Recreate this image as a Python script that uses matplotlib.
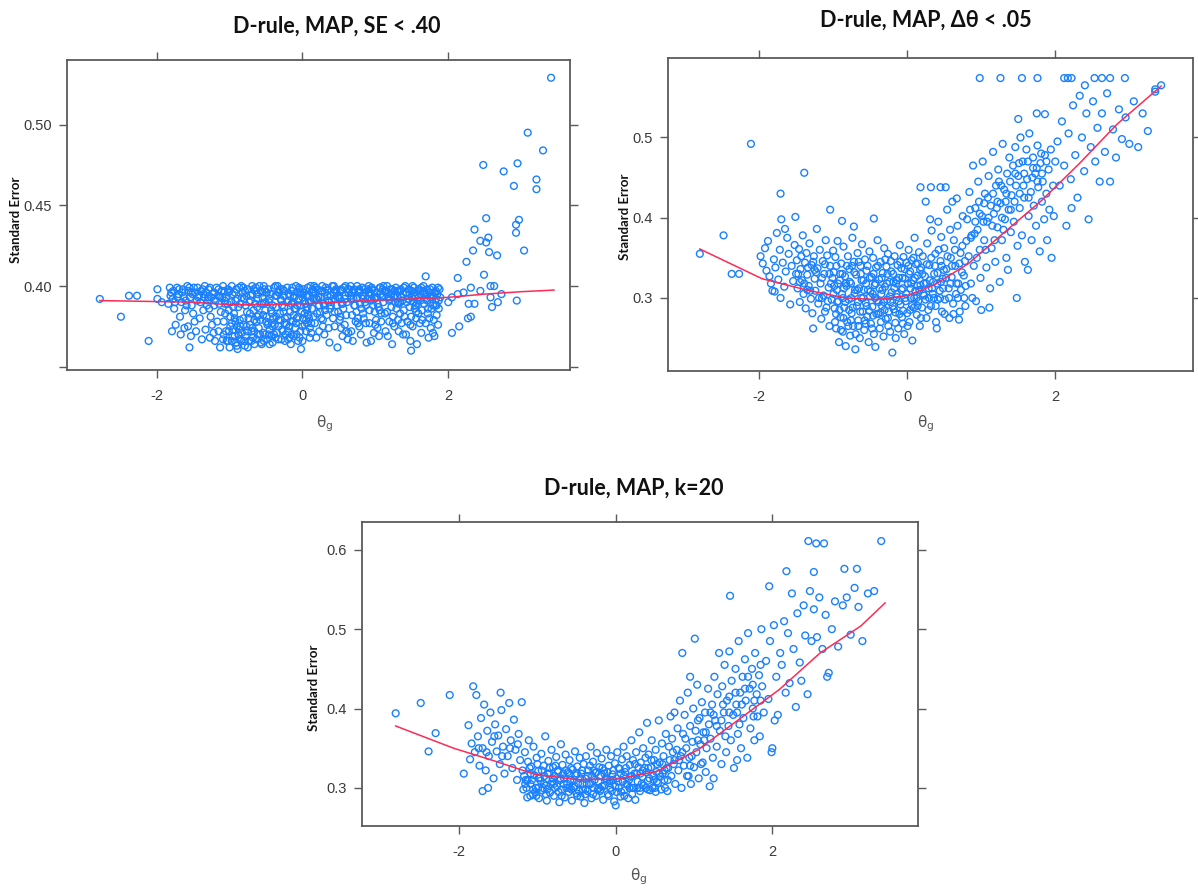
import numpy as np
import matplotlib
matplotlib.use('Agg')
import matplotlib.pyplot as plt

# ---- panel 1 : D-rule, MAP, SE < .40 ----
se40_core = [
    (-1.82,.399),(-1.80,.396),(-1.78,.392),(-1.84,.389),(-1.76,.386),(-1.72,.399),(-1.70,.395),(-1.68,.381),
    (-1.74,.376),(-1.66,.390),(-1.64,.398),(-1.62,.374),(-1.79,.372),(-1.61,.385),(-1.67,.370),
    (-1.58,.400),(-1.56,.397),(-1.54,.393),(-1.52,.388),(-1.50,.383),(-1.48,.378),(-1.46,.372),(-1.44,.399),
    (-1.42,.394),(-1.40,.390),(-1.38,.367),(-1.36,.385),(-1.57,.375),(-1.53,.369),(-1.47,.396),(-1.41,.380),
    (-1.37,.398),(-1.55,.362),
    (-1.34,.400),(-1.32,.396),(-1.30,.391),(-1.28,.386),(-1.26,.381),(-1.24,.376),(-1.22,.371),(-1.20,.366),
    (-1.18,.399),(-1.16,.394),(-1.14,.389),(-1.12,.384),(-1.33,.373),(-1.29,.398),(-1.25,.393),(-1.21,.388),
    (-1.17,.378),(-1.13,.362),(-1.11,.397),(-1.27,.368),
    (-1.09,.400),(-1.07,.397),(-1.05,.393),(-1.03,.389),(-1.01,.385),(-0.99,.381),(-0.97,.377),(-0.95,.373),
    (-0.93,.369),(-0.91,.365),(-0.89,.361),(-0.87,.399),(-1.08,.370),(-1.04,.366),(-1.00,.362),(-0.96,.395),
    (-0.92,.391),(-0.88,.387),(-0.86,.379),(-1.06,.383),(-1.02,.398),(-0.98,.390),(-0.94,.383),(-0.90,.375),
    (-0.86,.367),
    (-0.84,.400),(-0.82,.396),(-0.80,.392),(-0.78,.388),(-0.76,.384),(-0.74,.380),(-0.72,.376),(-0.70,.372),
    (-0.68,.368),(-0.66,.364),(-0.64,.399),(-0.62,.395),(-0.83,.371),(-0.79,.363),(-0.75,.398),(-0.71,.391),
    (-0.67,.385),(-0.63,.378),(-0.61,.370),(-0.81,.380),(-0.77,.375),(-0.73,.366),(-0.69,.395),(-0.65,.389),
    (-0.60,.382),
    (-0.59,.400),(-0.57,.397),(-0.55,.393),(-0.53,.389),(-0.51,.385),(-0.49,.381),(-0.47,.377),(-0.45,.373),
    (-0.43,.369),(-0.41,.365),(-0.39,.399),(-0.37,.394),(-0.58,.379),(-0.54,.371),(-0.50,.396),(-0.46,.390),
    (-0.42,.383),(-0.38,.376),(-0.36,.387),(-0.56,.364),(-0.52,.398),(-0.48,.367),(-0.44,.395),(-0.40,.380),
    (-0.35,.371),
    (-0.34,.400),(-0.32,.396),(-0.30,.392),(-0.28,.388),(-0.26,.384),(-0.24,.380),(-0.22,.376),(-0.20,.372),
    (-0.18,.368),(-0.16,.364),(-0.14,.399),(-0.12,.394),(-0.33,.375),(-0.29,.367),(-0.25,.397),(-0.21,.390),
    (-0.17,.384),(-0.13,.378),(-0.11,.386),(-0.31,.383),(-0.27,.398),(-0.23,.370),(-0.19,.395),(-0.15,.389),
    (-0.10,.374),
    (-0.09,.400),(-0.07,.396),(-0.05,.392),(-0.03,.388),(-0.01,.384),(0.01,.380),(0.03,.376),(0.05,.372),
    (-0.02,.361),(0.07,.399),(0.09,.394),(0.11,.390),(0.13,.386),(-0.08,.370),(-0.04,.398),(0.00,.393),
    (0.04,.389),(0.08,.382),(0.12,.377),(0.14,.398),(-0.06,.366),(0.02,.396),(0.06,.385),(0.10,.368),
    (0.15,.392),
    (0.16,.400),(0.18,.396),(0.20,.392),(0.22,.388),(0.24,.384),(0.26,.380),(0.28,.375),(0.30,.370),
    (0.32,.399),(0.34,.394),(0.36,.390),(0.38,.386),(0.17,.377),(0.21,.398),(0.25,.393),(0.29,.389),
    (0.33,.382),(0.37,.365),(0.19,.368),(0.23,.372),(0.27,.397),(0.31,.385),(0.35,.398),(0.39,.394),
    (0.41,.400),(0.43,.396),(0.45,.392),(0.47,.388),(0.49,.384),(0.51,.379),(0.53,.374),(0.55,.369),
    (0.57,.399),(0.59,.394),(0.61,.390),(0.63,.371),(0.42,.380),(0.46,.398),(0.50,.393),(0.54,.389),
    (0.58,.376),(0.62,.367),(0.44,.375),(0.48,.362),(0.52,.397),(0.56,.386),(0.60,.382),(0.64,.398),
    (0.66,.400),(0.68,.396),(0.70,.392),(0.72,.388),(0.74,.384),(0.76,.380),(0.78,.375),(0.80,.370),
    (0.82,.399),(0.84,.394),(0.86,.390),(0.88,.365),(0.67,.372),(0.71,.398),(0.75,.393),(0.79,.389),
    (0.83,.383),(0.87,.377),(0.69,.366),(0.73,.378),(0.77,.397),(0.81,.386),(0.85,.398),(0.89,.392),
    (0.91,.400),(0.93,.396),(0.95,.392),(0.97,.388),(0.99,.384),(1.01,.379),(1.03,.374),(1.05,.369),
    (1.07,.399),(1.09,.394),(1.11,.390),(1.13,.383),(0.92,.377),(0.96,.398),(1.00,.393),(1.04,.387),
    (1.08,.378),(1.12,.397),(0.94,.366),(0.98,.371),(1.02,.396),(1.06,.385),(1.10,.398),(1.14,.372),
    (1.16,.400),(1.18,.396),(1.20,.392),(1.22,.387),(1.24,.381),(1.26,.375),(1.28,.399),(1.30,.394),
    (1.32,.389),(1.34,.383),(1.36,.377),(1.38,.370),(1.17,.369),(1.21,.398),(1.25,.393),(1.29,.386),
    (1.33,.397),(1.37,.391),(1.19,.378),(1.23,.364),(1.27,.390),(1.31,.379),(1.35,.398),(1.39,.385),
    (1.41,.400),(1.43,.396),(1.45,.392),(1.47,.387),(1.49,.381),(1.51,.375),(1.53,.399),(1.55,.394),
    (1.57,.389),(1.59,.383),(1.61,.377),(1.63,.371),(1.42,.370),(1.46,.398),(1.50,.393),(1.54,.386),
    (1.58,.397),(1.62,.391),(1.44,.378),(1.48,.366),(1.52,.390),(1.56,.380),(1.60,.398),(1.64,.385),
    (1.66,.400),(1.68,.396),(1.70,.392),(1.72,.386),(1.74,.380),(1.76,.374),(1.78,.399),(1.80,.394),
    (1.82,.388),(1.84,.382),(1.86,.376),(1.88,.398),(1.67,.389),(1.71,.398),(1.75,.393),(1.79,.371),
    (1.83,.397),(1.87,.391),(1.69,.377),(1.73,.368),(1.77,.386),(1.85,.395),(1.89,.393),
]
se40_core2 = [
    (-1.81,.394),(-1.75,.390),(-1.69,.398),(-1.63,.393),(-1.59,.388),(-1.55,.399),(-1.51,.395),(-1.45,.391),
    (-1.39,.397),(-1.35,.393),(-1.31,.388),(-1.27,.399),(-1.23,.395),(-1.19,.391),(-1.15,.398),(-1.10,.393),
    (-1.06,.389),(-1.02,.396),(-0.97,.400),(-0.93,.396),(-0.89,.392),(-0.85,.389),(-0.81,.399),(-0.77,.394),
    (-0.73,.390),(-0.69,.400),(-0.65,.397),(-0.61,.392),(-0.57,.389),(-0.53,.400),(-0.49,.396),(-0.45,.392),
    (-0.41,.388),(-0.37,.400),(-0.33,.396),(-0.29,.391),(-0.25,.387),(-0.21,.399),(-0.17,.394),(-0.13,.390),
    (-0.09,.386),(-0.05,.399),(-0.01,.395),(0.03,.391),(0.07,.387),(0.11,.400),(0.15,.396),(0.19,.392),
    (0.23,.388),(0.27,.400),(0.31,.396),(0.35,.391),(0.39,.388),(0.43,.400),(0.47,.396),(0.51,.392),
    (0.55,.389),(0.59,.400),(0.63,.396),(0.67,.392),(0.71,.388),(0.75,.400),(0.79,.396),(0.83,.392),
    (0.87,.388),(0.91,.396),(0.95,.399),(0.99,.392),(1.03,.389),(1.07,.395),(1.11,.400),(1.15,.396),
    (1.19,.391),(1.23,.398),(1.27,.394),(1.31,.390),(1.35,.393),(1.39,.399),(1.43,.390),(1.47,.395),
    (1.51,.400),(1.55,.388),(1.59,.393),(1.63,.399),(1.67,.395),(1.71,.391),(1.75,.398),(1.79,.388),
    (1.83,.392),(1.87,.386),
    (-1.08,.378),(-1.05,.372),(-1.02,.366),(-0.99,.375),(-0.96,.369),(-0.93,.380),(-0.90,.363),(-0.87,.373),
    (-0.84,.366),(-0.81,.376),(-0.78,.369),(-0.75,.362),(-0.72,.383),(-0.69,.374),(-0.66,.379),(-0.63,.367),
    (-0.60,.374),(-0.57,.365),(-0.54,.382),(-0.51,.370),(-0.48,.376),(-0.45,.364),(-0.42,.377),(-0.39,.370),
    (-0.36,.381),(-0.33,.367),(-0.30,.379),(-0.27,.372),(-0.24,.366),(-0.21,.381),(-0.18,.375),(-0.15,.370),
    (-0.12,.382),(-0.09,.377),(-0.06,.381),(-0.03,.372),(0.00,.366),(0.03,.383),(0.06,.377),(0.09,.380),
    (0.12,.371),
    (0.20,.383),(0.28,.379),(0.36,.374),(0.44,.384),(0.52,.381),(0.60,.372),(0.68,.382),(0.76,.377),
    (0.84,.380),(0.92,.385),(1.00,.376),(1.08,.383),(1.16,.384),(1.24,.377),(1.32,.372),(1.40,.381),
    (1.48,.376),(1.56,.384),(1.64,.379),(1.72,.383),(1.80,.379),
]
se40_core3 = [
    (-1.77,.397),(-1.71,.393),(-1.65,.396),(-1.60,.391),(-1.53,.396),(-1.49,.399),(-1.43,.393),(-1.36,.395),
    (-1.29,.393),(-1.21,.396),(-1.13,.393),(-1.07,.391),(-1.00,.397),(-0.95,.387),(-0.91,.398),(-0.83,.393),
    (-0.79,.397),(-0.71,.394),(-0.67,.398),(-0.62,.387),(-0.55,.396),(-0.51,.390),(-0.47,.398),(-0.43,.385),
    (-0.35,.394),(-0.31,.398),(-0.26,.394),(-0.19,.391),(-0.15,.397),(-0.11,.393),(-0.07,.388),(-0.03,.396),
    (0.01,.398),(0.05,.394),(0.09,.390),(0.13,.396),(0.18,.399),(0.22,.393),(0.26,.397),(0.30,.388),
    (0.34,.397),(0.40,.391),(0.45,.397),(0.49,.394),(0.53,.398),(0.58,.392),(0.62,.398),(0.66,.394),
    (0.70,.397),(0.74,.392),(0.78,.398),(0.82,.394),(0.86,.396),(0.90,.398),(0.94,.391),(0.98,.397),
    (1.02,.393),(1.06,.399),(1.10,.393),(1.14,.397),(1.18,.393),(1.22,.395),(1.26,.397),(1.30,.397),
    (1.34,.390),(1.38,.395),(1.42,.396),(1.46,.392),(1.50,.397),(1.54,.396),(1.58,.391),(1.62,.395),
    (1.66,.397),(1.70,.395),(1.74,.396),(1.78,.393),(1.82,.396),(1.86,.399),
    (-1.15,.372),(-1.09,.367),(-1.01,.372),(-0.97,.366),(-0.92,.378),(-0.88,.370),(-0.85,.375),(-0.80,.366),
    (-0.76,.372),(-0.70,.366),(-0.66,.372),(-0.62,.381),(-0.58,.370),(-0.53,.366),(-0.50,.378),(-0.46,.370),
    (-0.41,.375),(-0.37,.368),(-0.33,.379),(-0.28,.373),(-0.24,.377),(-0.20,.367),(-0.16,.378),(-0.12,.369),
    (-0.08,.380),(-0.04,.368),(0.00,.375),(0.05,.379),(0.10,.374),(0.15,.381),
]
se40_tail = [
    (-2.78,.392),(-2.49,.381),(-2.38,.394),(-2.27,.394),(-2.11,.366),(-1.99,.398),(-1.99,.392),(-1.93,.390),
    (3.41,.529),(3.09,.495),(3.30,.484),(2.48,.475),(2.95,.476),(2.76,.471),(2.90,.462),(3.21,.466),
    (3.21,.460),(2.52,.442),(2.97,.441),(2.93,.438),(2.93,.433),(2.36,.435),(2.44,.428),(2.55,.430),
    (2.52,.427),(2.56,.421),(2.67,.419),(2.34,.422),(2.25,.415),(3.04,.422),(2.49,.407),(1.69,.406),
    (2.13,.405),(2.94,.391),(2.58,.400),(2.63,.400),(2.58,.393),(2.68,.390),(2.60,.387),(2.28,.389),
    (2.36,.389),(2.31,.381),(2.27,.380),(2.15,.375),(2.05,.371),(1.49,.360),(1.57,.364),(2.73,.395),
    (2.44,.397),(2.31,.399),(2.21,.396),(2.13,.395),(2.05,.393),(2.00,.390),(1.84,.388),(1.81,.369),
]
se40_fit_x = [-2.78, -1.5, -1.0, -0.5, 0.0, 0.5, 1.0, 1.5, 2.0, 2.5, 3.0, 3.45]
se40_fit_y = [0.391, 0.390, 0.3884, 0.3884, 0.389, 0.390, 0.3913, 0.392, 0.393, 0.395, 0.3965, 0.3975]

# ---- panel 2 : D-rule, MAP, dtheta < .05 ----
dt05_core = [
    (-1.98,.352),(-1.95,.343),(-1.92,.362),(-1.90,.334),(-1.88,.371),(-1.86,.327),(-1.84,.318),(-1.82,.309),
    (-1.80,.348),(-1.78,.338),(-1.76,.381),(-1.74,.323),(-1.72,.360),(-1.70,.398),(-1.68,.344),(-1.66,.314),
    (-1.64,.333),(-1.62,.375),(-1.60,.355),(-1.58,.292),(-1.56,.340),(-1.54,.321),(-1.52,.366),(-1.51,.401),
    (-1.50,.330),(-1.65,.386),(-1.79,.308),(-1.71,.300),
    (-1.49,.347),(-1.48,.312),(-1.46,.361),(-1.45,.295),(-1.44,.336),(-1.42,.322),(-1.41,.378),(-1.40,.305),
    (-1.38,.344),(-1.37,.287),(-1.36,.356),(-1.35,.329),(-1.33,.315),(-1.32,.368),(-1.30,.299),(-1.29,.341),
    (-1.28,.281),(-1.26,.352),(-1.25,.324),(-1.24,.309),(-1.22,.386),(-1.21,.337),(-1.20,.293),(-1.18,.360),
    (-1.17,.318),(-1.16,.274),(-1.14,.346),(-1.13,.303),(-1.12,.330),(-1.10,.372),(-1.09,.288),(-1.08,.353),
    (-1.06,.313),(-1.05,.265),(-1.04,.340),(-1.02,.298),(-1.01,.325),(-1.00,.359),(-1.27,.262),(-1.11,.283),
    (-0.99,.332),(-0.98,.287),(-0.97,.351),(-0.96,.262),(-0.95,.310),(-0.94,.371),(-0.93,.296),(-0.92,.245),
    (-0.91,.322),(-0.90,.276),(-0.89,.343),(-0.88,.305),(-0.87,.258),(-0.86,.364),(-0.85,.288),(-0.84,.327),
    (-0.83,.240),(-0.82,.315),(-0.81,.270),(-0.80,.352),(-0.79,.298),(-0.78,.336),(-0.77,.253),(-0.76,.318),
    (-0.75,.281),(-0.74,.375),(-0.73,.265),(-0.72,.345),(-0.71,.306),(-0.70,.236),(-0.69,.329),(-0.68,.290),
    (-0.67,.356),(-0.66,.272),(-0.65,.312),(-0.64,.250),(-0.63,.340),(-0.62,.300),(-0.61,.367),(-0.60,.283),
    (-0.59,.322),(-0.58,.260),(-0.57,.348),(-0.56,.294),(-0.55,.334),(-0.54,.277),(-0.53,.310),(-0.52,.245),
    (-0.51,.358),(-0.50,.302),(-0.49,.268),(-0.48,.326),(-0.47,.289),(-0.46,.350),(-0.45,.255),(-0.44,.316),
    (-0.43,.239),(-0.42,.338),(-0.41,.297),(-0.40,.372),(-0.39,.280),(-0.38,.323),(-0.37,.262),(-0.36,.345),
    (-0.35,.305),(-0.34,.290),(-0.33,.331),(-0.32,.252),(-0.31,.362),(-0.30,.314),(-0.29,.274),(-0.28,.339),
    (-0.27,.298),(-0.26,.355),(-0.25,.283),(-0.24,.320),(-0.23,.258),(-0.22,.346),(-0.21,.307),(-0.20,.232),
    (-0.19,.330),(-0.18,.286),(-0.17,.352),(-0.16,.269),(-0.15,.318),(-0.14,.301),(-0.13,.341),(-0.12,.262),
    (-0.11,.325),(-0.10,.366),(-0.09,.292),(-0.08,.337),(-0.07,.276),(-0.06,.312),(-0.05,.351),(-0.04,.255),
    (-0.03,.324),(-0.02,.296),(-0.01,.344),(0.00,.281),(0.01,.318),(0.02,.360),(0.03,.270),(0.04,.333),
    (0.05,.300),(0.06,.347),(0.07,.247),(0.08,.322),(0.09,.288),(0.10,.375),(0.11,.309),(0.12,.342),
    (0.13,.279),(0.14,.328),(0.15,.296),(0.16,.357),(0.17,.265),(0.18,.316),(0.19,.338),(0.20,.288),
    (0.21,.352),(0.23,.303),(0.24,.327),(0.26,.275),(0.27,.368),(0.29,.312),(0.30,.341),(0.32,.290),
    (0.33,.384),(0.35,.320),(0.36,.300),(0.38,.355),(0.39,.270),(0.41,.331),(0.42,.395),(0.44,.309),
    (0.45,.346),(0.47,.283),(0.48,.324),(0.50,.362),(0.51,.298),(0.53,.336),(0.54,.410),(0.56,.312),
    (0.57,.275),(0.59,.350),(0.60,.326),(0.62,.293),(0.63,.372),(0.65,.340),(0.66,.305),(0.68,.390),
    (0.69,.318),(0.71,.283),(0.72,.356),(0.74,.332),(0.75,.402),(0.77,.300),(0.78,.346),(0.80,.371),
    (0.25,.420),(0.40,.262),(0.52,.438),(0.61,.420),(0.70,.273),(0.79,.315),(0.31,.398),(0.46,.376),
    (0.58,.385),(0.67,.424),
    (0.81,.398),(0.83,.352),(0.84,.432),(0.86,.318),(0.87,.378),(0.89,.465),(0.90,.340),(0.92,.412),
    (0.93,.296),(0.95,.385),(0.96,.445),(0.98,.360),(0.99,.325),(1.01,.402),(1.02,.470),(1.04,.372),
    (1.05,.430),(1.07,.338),(1.08,.395),(1.10,.452),(1.11,.288),(1.13,.415),(1.14,.362),(1.16,.482),
    (1.17,.405),(1.19,.345),(1.20,.440),(1.22,.388),(1.23,.460),(1.25,.320),(1.26,.418),(1.28,.372),
    (1.29,.492),(1.31,.435),(1.32,.398),(1.34,.350),(1.35,.455),(1.37,.410),(1.38,.475),(1.40,.382),
    (0.88,.300),(1.00,.285),(1.12,.312),(1.24,.445),(1.36,.335),
    (1.41,.428),(1.43,.465),(1.44,.395),(1.46,.488),(1.47,.440),(1.49,.365),(1.50,.452),(1.52,.412),
    (1.53,.500),(1.55,.378),(1.56,.470),(1.58,.425),(1.59,.345),(1.61,.485),(1.62,.448),(1.64,.402),
    (1.65,.505),(1.67,.432),(1.68,.372),(1.70,.475),(1.71,.415),(1.73,.455),(1.74,.390),(1.76,.490),
    (1.77,.438),(1.79,.358),(1.80,.468),(1.82,.420),(1.83,.445),(1.85,.398),(1.86,.478),(1.88,.430),
    (1.89,.372),(1.91,.460),(1.92,.410),(1.94,.485),(1.95,.350),(1.97,.440),(1.98,.402),(2.00,.470),
    (1.48,.300),(1.63,.335),
    (2.03,.495),(2.06,.440),(2.09,.520),(2.12,.465),(2.15,.390),(2.18,.505),(2.21,.448),(2.24,.540),
    (2.27,.478),(2.30,.425),(2.33,.552),(2.36,.500),(2.39,.458),(2.42,.530),(2.45,.398),(2.48,.488),
    (2.51,.545),(2.54,.470),(2.57,.512),(2.60,.445),(2.22,.412),(2.40,.565),
    (2.63,.530),(2.67,.482),(2.70,.555),(2.74,.445),(2.78,.510),(2.82,.475),(2.86,.535),(2.90,.498),
    (2.95,.525),(3.00,.492),(3.06,.545),(3.12,.488),(3.18,.530),(3.25,.508),(3.35,.557),
]
dt05_core2 = [
    (-1.47,.330),(-1.43,.352),(-1.39,.318),(-1.34,.338),(-1.31,.309),(-1.27,.345),(-1.23,.332),(-1.19,.300),
    (-1.15,.325),(-1.11,.342),(-1.07,.296),(-1.03,.318),
    (-0.995,.305),(-0.975,.270),(-0.955,.340),(-0.935,.318),(-0.915,.285),(-0.895,.260),(-0.875,.330),
    (-0.855,.312),(-0.835,.295),(-0.815,.340),(-0.795,.265),(-0.775,.320),(-0.755,.300),(-0.735,.288),
    (-0.715,.332),(-0.695,.255),(-0.675,.310),(-0.655,.345),(-0.635,.283),(-0.615,.322),(-0.595,.300),
    (-0.575,.272),(-0.555,.318),(-0.535,.340),(-0.515,.284),(-0.495,.308),(-0.475,.262),(-0.455,.330),
    (-0.435,.300),(-0.415,.280),(-0.395,.340),(-0.375,.312),(-0.355,.270),(-0.335,.310),(-0.315,.295),
    (-0.295,.348),(-0.275,.318),(-0.255,.265),(-0.235,.302),(-0.215,.333),(-0.195,.290),(-0.175,.312),
    (-0.155,.250),(-0.135,.322),(-0.115,.296),(-0.095,.345),(-0.075,.310),(-0.055,.284),(-0.035,.336),
    (-0.015,.305),(0.005,.265),(0.025,.330),(0.045,.312),(0.065,.290),(0.085,.350),(0.105,.325),
    (0.125,.300),(0.145,.343),(0.165,.310),(0.185,.275),(0.205,.330),(0.225,.318),(0.245,.298),
    (0.265,.342),(0.285,.285),(0.305,.322),(0.325,.350),(0.345,.305),(0.365,.330),(0.385,.290),
    (0.405,.318),(0.425,.360),(0.445,.300),(0.465,.340),(0.485,.312),(0.505,.280),(0.525,.325),
    (0.545,.352),(0.565,.300),(0.585,.318),(0.605,.340),(0.625,.280),(0.645,.360),(0.665,.318),
    (0.685,.300),(0.705,.343),(0.725,.310),(0.745,.365),(0.765,.328),(0.785,.290),
    (0.85,.410),(0.91,.380),(0.97,.420),(1.03,.395),(1.09,.425),(1.15,.390),(1.21,.412),(1.27,.440),
    (1.33,.420),(1.39,.445),(1.45,.420),(1.51,.468),(1.57,.440),(1.63,.470),(1.69,.450),(1.75,.462),
    (1.81,.480),(0.94,.350),(1.06,.360),(1.18,.372),(1.30,.385),
]
dt05_core3 = [
    (-0.985,.315),(-0.945,.295),(-0.905,.330),(-0.865,.300),(-0.825,.318),(-0.785,.285),(-0.745,.340),
    (-0.705,.310),(-0.665,.295),(-0.625,.330),(-0.585,.310),(-0.545,.290),(-0.505,.325),(-0.465,.305),
    (-0.425,.318),(-0.385,.295),(-0.345,.325),(-0.305,.285),(-0.265,.330),(-0.225,.295),(-0.185,.320),
    (-0.145,.305),(-0.105,.280),(-0.065,.325),(-0.025,.300),(0.015,.340),(0.055,.318),(0.095,.300),
    (0.135,.315),(0.175,.335),(0.215,.305),(0.255,.318),(0.295,.300),(0.335,.312),(0.375,.340),
    (0.415,.298),(0.455,.320),(0.495,.335),
    (-0.96,.280),(-0.86,.275),(-0.76,.272),(-0.66,.265),(-0.56,.268),(-0.46,.278),(-0.36,.282),(-0.26,.275),
    (-0.16,.282),(-0.06,.268),(0.04,.285),(0.14,.290),
    (-1.45,.320),(-1.35,.310),(-1.25,.335),(-1.15,.300),(-1.05,.330),
    (0.86,.375),(0.92,.395),(0.98,.405),(1.04,.418),(1.10,.400),(1.16,.430),(1.22,.420),(1.28,.400),
    (1.34,.430),(1.40,.410),(1.46,.455),(1.52,.430),(1.58,.455),(1.64,.425),(1.70,.462),(1.76,.445),
    (1.82,.455),(1.88,.470),
]
dt05_tail = [
    (0.98,.574),(1.26,.574),(1.55,.574),(1.76,.574),(2.12,.574),(2.17,.574),(2.22,.574),(2.53,.574),
    (2.63,.574),(2.74,.574),(2.94,.574),(3.43,.565),(3.35,.560),
    (-2.11,.492),(-1.39,.456),(-1.71,.430),(-2.48,.378),(-2.37,.330),(-2.27,.330),(-2.80,.355),
    (-1.04,.410),(-0.45,.399),(-0.88,.396),(-0.72,.389),(0.18,.438),(0.32,.438),(0.45,.438),
    (1.50,.523),(1.75,.530),(1.86,.529),
]
dt05_fit_x = [-2.80, -1.96, -1.34, -0.83, -0.41, 0.0, 0.36, 0.83, 1.29, 1.81, 2.32, 2.84, 3.43]
dt05_fit_y = [0.361, 0.324, 0.3095, 0.300, 0.298, 0.303, 0.316, 0.343, 0.380, 0.421, 0.467, 0.517, 0.564]

# ---- panel 3 : D-rule, MAP, k=20 ----
k20_core = [
    (-1.88,.379),(-1.86,.336),(-1.84,.356),(-1.82,.428),(-1.80,.345),(-1.78,.417),(-1.76,.365),(-1.74,.328),
    (-1.72,.388),(-1.70,.350),(-1.68,.405),(-1.66,.322),(-1.64,.372),(-1.62,.340),(-1.60,.395),(-1.58,.358),
    (-1.56,.312),(-1.54,.380),(-1.52,.346),(-1.50,.366),(-1.48,.330),(-1.46,.398),(-1.44,.352),(-1.42,.318),
    (-1.40,.374),(-1.38,.340),(-1.36,.407),(-1.34,.360),(-1.32,.325),(-1.30,.386),(-1.28,.348),(-1.26,.310),
    (-1.24,.368),(-1.22,.335),(-1.20,.408),(-1.63,.300),(-1.47,.420),
    (-1.19,.322),(-1.18,.298),(-1.16,.345),(-1.15,.310),(-1.13,.288),(-1.12,.333),(-1.11,.360),
    (-1.09,.305),(-1.08,.327),(-1.06,.292),(-1.05,.352),(-1.04,.316),(-1.02,.300),(-1.01,.338),
    (-0.99,.321),(-0.98,.287),(-0.96,.309),(-0.95,.343),(-0.94,.297),(-0.92,.328),(-0.91,.315),(-0.90,.365),
    (-0.89,.303),(-0.88,.284),(-0.86,.334),(-0.85,.318),(-0.84,.294),(-0.82,.348),(-0.81,.308),(-0.80,.326),
    (-0.79,.290),(-0.78,.315),(-0.76,.339),(-0.75,.302),(-0.74,.322),(-0.72,.282),(-0.71,.310),(-0.70,.355),
    (-0.69,.298),(-0.68,.329),(-0.66,.312),(-0.65,.288),(-0.64,.342),(-0.62,.305),(-0.61,.320),(-0.60,.295),
    (-0.59,.335),(-0.58,.310),(-0.56,.284),(-0.55,.323),(-0.54,.300),(-0.52,.346),(-0.51,.316),(-0.50,.293),
    (-0.49,.327),(-0.48,.306),(-0.46,.338),(-0.45,.289),(-0.44,.318),(-0.42,.298),(-0.41,.330),(-0.40,.281),
    (-0.39,.312),(-0.38,.340),(-0.36,.296),(-0.35,.322),(-0.34,.305),(-0.32,.352),(-0.31,.287),(-0.30,.315),
    (-0.29,.333),(-0.28,.300),(-0.26,.319),(-0.25,.290),(-0.24,.344),(-0.22,.308),(-0.21,.326),(-0.20,.296),
    (-0.19,.315),(-0.18,.337),(-0.16,.285),(-0.15,.322),(-0.14,.303),(-0.12,.348),(-0.11,.311),(-0.10,.292),
    (-0.09,.328),(-0.08,.306),(-0.06,.340),(-0.05,.296),(-0.04,.317),(-0.02,.283),(-0.01,.331),(0.00,.278),
    (0.01,.312),(0.02,.345),(0.04,.300),(0.05,.324),(0.06,.289),(0.08,.336),(0.09,.308),(0.10,.352),
    (0.11,.297),(0.12,.320),(0.14,.340),(0.15,.304),(0.16,.287),(0.18,.329),(0.19,.314),(0.20,.360),
    (0.21,.300),(0.22,.335),(0.24,.318),(0.25,.285),(0.26,.345),(0.28,.308),(0.29,.326),(0.30,.370),
    (0.31,.296),(0.32,.332),(0.34,.314),(0.35,.350),(0.36,.303),(0.38,.338),(0.39,.320),(0.40,.382),
    (0.41,.309),(0.42,.342),(0.44,.297),(0.45,.326),(0.46,.360),(0.48,.315),(0.49,.335),(0.50,.300),
    (0.51,.348),(0.52,.320),(0.54,.306),(0.55,.385),(0.56,.332),(0.58,.298),(0.59,.356),(0.60,.318),
    (0.61,.340),(0.62,.310),(0.64,.368),(0.65,.325),(0.66,.296),(0.68,.352),(0.69,.335),(0.70,.390),
    (0.71,.315),(0.72,.362),(0.74,.330),(0.75,.395),(0.76,.305),(0.78,.348),(0.79,.375),(0.80,.322),
    (0.82,.410),(0.83,.340),(0.84,.300),(0.86,.368),(0.87,.328),(0.88,.392),(0.90,.350),(0.91,.315),
    (0.92,.420),(0.94,.338),(0.95,.378),(0.96,.305),(0.98,.358),(0.99,.400),(1.00,.326),(1.02,.372),
    (1.03,.345),(1.04,.430),(1.06,.312),(1.07,.388),(1.08,.355),(1.10,.408),(1.11,.332),(1.12,.370),
    (1.14,.395),(1.15,.320),(1.16,.350),(1.18,.425),(1.19,.380),(1.20,.302),(0.85,.470),(1.01,.488),
    (0.95,.440),
    (1.21,.362),(1.23,.405),(1.24,.338),(1.26,.440),(1.27,.385),(1.29,.352),(1.30,.418),(1.32,.470),
    (1.33,.372),(1.35,.330),(1.36,.428),(1.38,.395),(1.39,.455),(1.41,.345),(1.42,.410),(1.44,.378),
    (1.45,.472),(1.47,.360),(1.48,.435),(1.50,.392),(1.51,.325),(1.53,.450),(1.54,.405),(1.56,.368),
    (1.57,.485),(1.59,.420),(1.60,.350),(1.62,.440),(1.63,.388),(1.65,.462),(1.66,.410),(1.68,.338),
    (1.69,.495),(1.71,.425),(1.72,.375),(1.74,.450),(1.75,.400),(1.77,.360),(1.78,.470),(1.80,.418),
    (1.81,.390),(1.83,.442),(1.84,.365),(1.86,.500),(1.87,.428),(1.89,.395),(1.25,.312),(1.55,.335),
    (1.92,.460),(1.95,.412),(1.97,.485),(2.00,.350),(2.02,.505),(2.05,.440),(2.07,.392),(2.10,.470),
    (2.12,.455),(2.15,.510),(2.17,.420),(2.20,.495),(2.22,.432),(2.25,.545),(2.27,.475),(2.30,.402),
    (2.32,.520),(2.35,.458),(2.37,.435),(2.40,.530),(2.42,.492),(2.45,.418),(2.48,.548),(2.50,.485),
    (2.03,.385),(1.99,.345),
    (2.53,.525),(2.57,.490),(2.60,.540),(2.64,.475),(2.68,.518),(2.72,.445),(2.76,.500),(2.80,.535),
    (2.84,.478),(2.90,.530),(2.95,.540),(3.00,.493),(3.05,.552),(3.10,.528),(3.15,.485),(3.22,.545),
    (3.30,.548),(2.70,.440),
]
k20_core2 = [
    (-1.17,.315),(-1.14,.300),(-1.10,.325),(-1.07,.310),(-1.03,.295),(-1.00,.330),(-0.97,.313),(-0.93,.300),
    (-0.87,.318),(-0.83,.305),(-0.77,.328),(-0.73,.295),(-0.67,.318),(-0.63,.300),(-0.57,.325),(-0.53,.310),
    (-0.47,.296),(-0.43,.322),(-0.37,.305),(-0.33,.328),(-0.27,.310),(-0.23,.298),(-0.17,.325),(-0.13,.312),
    (-0.07,.300),(-0.03,.322),(0.03,.308),(0.07,.295),(0.13,.325),(0.17,.310),(0.23,.300),(0.27,.318),
    (0.33,.305),(0.37,.325),(0.43,.312),(0.47,.300),(0.53,.330),(0.57,.314),(0.63,.300),(0.67,.325),
    (-1.155,.305),(-1.085,.318),(-1.015,.290),(-0.945,.322),(-0.875,.298),(-0.805,.312),(-0.735,.320),
    (-0.665,.305),(-0.595,.318),(-0.525,.302),(-0.455,.312),(-0.385,.298),(-0.315,.305),(-0.245,.320),
    (-0.175,.302),(-0.105,.320),(-0.035,.310),(0.035,.325),(0.105,.315),(0.175,.300),(0.245,.330),
    (0.315,.318),(0.385,.300),(0.455,.335),(0.525,.308),(0.595,.330),(0.665,.310),
    (0.73,.345),(0.81,.335),(0.89,.362),(0.97,.340),(1.05,.385),(1.13,.360),(1.21,.395),(1.29,.378),
    (1.37,.405),(1.45,.395),(1.53,.420),(1.61,.405),(1.69,.440),(1.77,.410),(1.85,.455),(1.40,.365),
    (1.58,.380),(1.76,.390),(0.93,.315),(1.09,.330),
    (-1.75,.350),(-1.65,.345),(-1.55,.365),(-1.45,.340),(-1.35,.350),(-1.25,.355),
]
k20_core3 = [
    (-1.125,.310),(-1.055,.298),(-0.985,.312),(-0.915,.305),(-0.845,.325),(-0.775,.300),(-0.705,.312),
    (-0.635,.322),(-0.565,.298),(-0.495,.318),(-0.425,.305),(-0.355,.315),(-0.285,.322),(-0.215,.300),
    (-0.145,.318),(-0.075,.310),(-0.005,.302),(0.065,.318),(0.135,.305),(0.205,.315),(0.275,.300),
    (0.345,.322),(0.415,.325),(0.485,.310),(0.555,.318),(0.625,.322),
    (-1.09,.290),(-0.99,.300),(-0.89,.292),(-0.79,.305),(-0.69,.290),(-0.59,.300),(-0.49,.290),(-0.39,.292),
    (-0.29,.292),(-0.19,.298),(-0.09,.290),(0.01,.295),(0.11,.290),(0.21,.292),(0.31,.300),(0.41,.298),
    (0.51,.295),
    (0.75,.335),(0.85,.345),(0.95,.328),(1.05,.360),(1.15,.370),(1.25,.392),(1.35,.385),(1.45,.415),
    (1.55,.395),(1.65,.425),(1.75,.430),(1.85,.410),
]
k20_tail = [
    (-2.81,.394),(-2.49,.407),(-2.12,.417),(-2.30,.369),(-2.39,.346),(-1.94,.318),(-1.70,.296),
    (3.39,.611),(2.46,.611),(2.56,.608),(2.66,.608),(2.18,.573),(2.53,.572),(2.92,.576),(3.08,.576),
    (1.96,.554),(1.46,.542),
]
k20_fit_x = [-2.81, -2.07, -1.55, -1.03, -0.51, 0.01, 0.53, 1.05, 1.57, 2.09, 2.61, 3.13, 3.44]
k20_fit_y = [0.378, 0.350, 0.334, 0.317, 0.3105, 0.311, 0.321, 0.348, 0.386, 0.424, 0.470, 0.504, 0.533]

titles = ['D-rule, MAP, SE < .40', 'D-rule, MAP, \u0394\u03b8 < .05', 'D-rule, MAP, k=20']

W, H = 1198, 889
pt_col = '#1a80ff'
fit_col = '#ff2a55'
frame_col = '#5a5a5a'
tick_font = ['Liberation Sans Narrow', 'Liberation Sans', 'DejaVu Sans']

fig = plt.figure(figsize=(W / 100, H / 100), dpi=100)


def px_rect(l, t, r, b):
    return [l / W, 1 - b / H, (r - l) / W, (b - t) / H]


def draw_panel(rect, core, tail, fx, fy, xlim, ylim, yt, ytl):
    ax = fig.add_axes(rect)
    pts = np.array(core + tail)
    ax.scatter(pts[:, 0], pts[:, 1], s=24, facecolors='none', edgecolors=pt_col, linewidths=1.0, zorder=2)
    ax.plot(fx, fy, color=fit_col, lw=1.1, zorder=3)
    ax.set_xlim(*xlim)
    ax.set_ylim(*ylim)
    ax.set_xticks([-2, 0, 2])
    ax.set_xticklabels(['-2', '0', '2'])
    ax.set_yticks(yt)
    ax.set_yticklabels(ytl)
    ax.tick_params(direction='out', length=6, width=1, color=frame_col, labelsize=10.5,
                   labelcolor='#3a3a3a', top=True, right=True, labeltop=False, labelright=False, pad=5)
    ax.tick_params(axis='x', pad=8)
    for lab in ax.get_xticklabels() + ax.get_yticklabels():
        lab.set_family(tick_font)
    for s in ax.spines.values():
        s.set_color(frame_col)
        s.set_linewidth(1.3)
    return ax


draw_panel(px_rect(67, 60, 570, 370), se40_core + se40_core2 + se40_core3, se40_tail,
           se40_fit_x, se40_fit_y,
           (-3.23, 3.67), (0.348, 0.54), [0.35, 0.40, 0.45, 0.50], ['', '0.40', '0.45', '0.50'])
draw_panel(px_rect(668, 58, 1193, 371), dt05_core + dt05_core2 + dt05_core3, dt05_tail,
           dt05_fit_x, dt05_fit_y,
           (-3.23, 3.86), (0.209, 0.599), [0.3, 0.4, 0.5], ['0.3', '0.4', '0.5'])
draw_panel(px_rect(362, 522, 918, 826), k20_core + k20_core2 + k20_core3, k20_tail,
           k20_fit_x, k20_fit_y,
           (-3.24, 3.86), (0.252, 0.635), [0.3, 0.4, 0.5, 0.6], ['0.3', '0.4', '0.5', '0.6'])

# titles and axis labels
title_pos = [(337, 26), (926, 20), (634, 488)]
ylab_pos = [(16, 220), (625, 217), (314, 688)]
xlab_pos = [(325, 424), (926, 424), (639, 877)]
for t, (tx, ty), (yx, yy), (xx, xy) in zip(titles, title_pos, ylab_pos, xlab_pos):
    fig.text(tx / W, 1 - ty / H, t, ha='center', va='center', fontsize=15.5, fontweight='bold',
             family=['Lato', 'DejaVu Sans'], color='#111111')
    fig.text(yx / W, 1 - yy / H, 'Standard Error', ha='center', va='center', rotation=90,
             fontsize=9.5, fontweight='bold', family=['Lato', 'DejaVu Sans'], color='#111111')
    fig.text(xx / W, 1 - xy / H, r'$\mathregular{\theta_g}$', ha='center', va='center',
             fontsize=11, color='#555555')

fig.savefig('out.png', dpi=100, facecolor='white')
